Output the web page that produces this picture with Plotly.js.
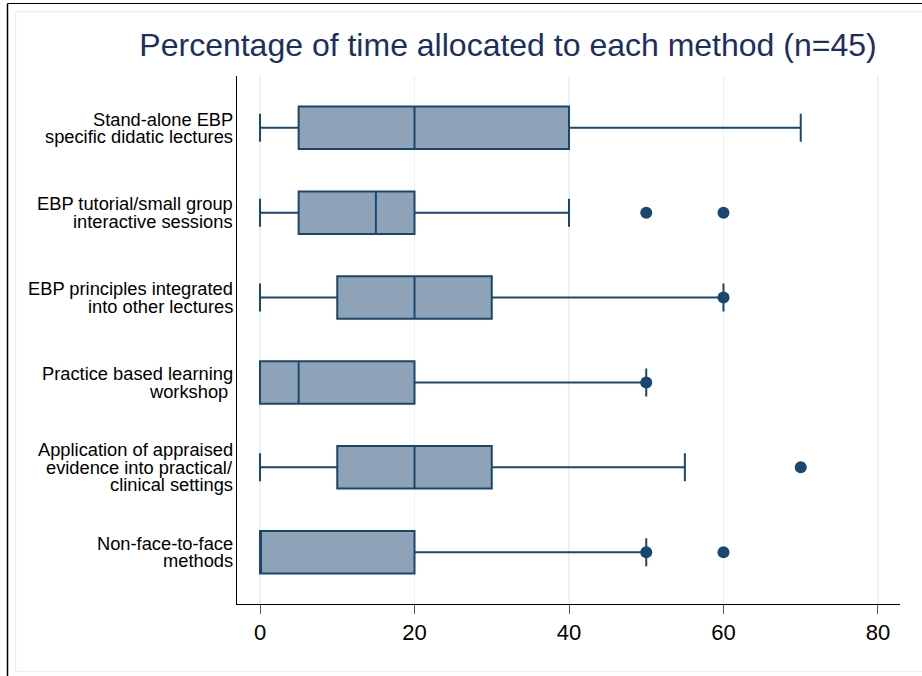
<!DOCTYPE html>
<html>
<head>
<meta charset="utf-8">
<script src="https://cdn.plot.ly/plotly-3.0.1.min.js"></script>
<style>
  html, body { margin: 0; padding: 0; background: #ffffff; }
  #chart { width: 922px; height: 676px; }
</style>
</head>
<body>
<div id="chart"></div>
<script>
// ---- Data ----
var categories = [
  "Stand-alone EBP<br>specific didatic lectures",
  "EBP tutorial/small group<br>interactive sessions",
  "EBP principles integrated<br>into other lectures",
  "Practice based learning<br>workshop ",
  "Application of appraised<br>evidence into practical/<br>clinical settings",
  "Non-face-to-face<br>methods"
];
var lowerWhisker = [0, 0, 0, 0, 0, 0];
var q1Values     = [5, 5, 10, 0, 10, 0];
var medianValues = [20, 15, 20, 5, 20, 0];
var q3Values     = [40, 20, 30, 20, 30, 20];
var upperWhisker = [70, 40, 60, 50, 55, 50];

var outlierCategory = [1, 1, 2, 3, 4, 5, 5];
var outlierValues   = [50, 60, 60, 50, 70, 50, 60];

var xTickValues = [0, 20, 40, 60, 80];
var xTickLabels = ["0", "20", "40", "60", "80"];

var titleText = "Percentage of time allocated to each method (n=45)";

// ---- Styling ----
var W = 922, H = 676;
var mL = 237, mR = 22, mT = 76, mB = 72;
var navy = "#1a476f";
var fill = "#8ea3b7";
var grid = "#eaf2f3";
var font = "Liberation Sans, Arial, Helvetica, sans-serif";

var catIdx = categories.map(function (c, i) { return i; });

var boxTrace = {
  type: "box",
  orientation: "h",
  y: catIdx,
  q1: q1Values,
  median: medianValues,
  q3: q3Values,
  lowerfence: lowerWhisker,
  upperfence: upperWhisker,
  boxpoints: false,
  width: 0.5,
  fillcolor: fill,
  line: { color: navy, width: 2 },
  whiskerwidth: 0.66,
  hoverinfo: "skip",
  showlegend: false
};

var outlierTrace = {
  type: "scatter",
  mode: "markers",
  x: outlierValues,
  y: outlierCategory,
  marker: { color: navy, size: 12 },
  hoverinfo: "skip",
  showlegend: false
};

// category labels as per-line annotations (tight Stata line spacing)
var annotations = [];
var lineGap = 17.5;
categories.forEach(function (label, i) {
  var lines = label.split("<br>");
  var n = lines.length;
  lines.forEach(function (ln, j) {
    annotations.push({
      xref: "paper", yref: "y",
      x: 0, y: i,
      xanchor: "right", yanchor: "middle",
      xshift: -3,
      yshift: ((n - 1) / 2 - j) * lineGap,
      text: ln.replace(/ $/, "&nbsp;"),
      showarrow: false,
      borderpad: 0,
      font: { family: font, size: 18.3, color: "#000000" }
    });
  });
});

// frames (outer black, inner light) in paper coordinates
var pw = W - mL - mR, ph = H - mT - mB;
function px(x) { return (x - mL) / pw; }
function py(y) { return 1 - (y - mT) / ph; }
var shapes = [
  { type: "line", xref: "paper", yref: "paper", x0: px(7.5), x1: px(W + 5), y0: py(3.5), y1: py(3.5),
    line: { color: "#000000", width: 1.2 } },
  { type: "line", xref: "paper", yref: "paper", x0: px(7.5), x1: px(7.5), y0: py(3.5), y1: py(H + 5),
    line: { color: "#000000", width: 1.5 } },
  { type: "rect", xref: "paper", yref: "paper", x0: px(15.5), x1: px(W + 5), y0: py(11.5), y1: py(671.5),
    line: { color: grid, width: 1.5 }, fillcolor: "rgba(0,0,0,0)" }
];

var layout = {
  width: W, height: H,
  margin: { l: mL, r: mR, t: mT, b: mB, pad: 0 },
  paper_bgcolor: "#ffffff",
  plot_bgcolor: "#ffffff",
  font: { family: font, color: "#000000" },
  title: {
    text: titleText,
    font: { family: font, size: 32, color: "#1c2f5e" },
    xref: "paper", x: (508 - mL) / pw, xanchor: "center",
    yref: "container", y: 1 - 45 / H, yanchor: "middle"
  },
  xaxis: {
    range: [-2.98, 82.85],
    tickvals: xTickValues,
    ticktext: xTickLabels,
    ticks: "outside", ticklen: 9, tickwidth: 1, tickcolor: "#555555",
    tickfont: { family: font, size: 22, color: "#000000" },
    showline: true, linecolor: "#000000", linewidth: 1,
    showgrid: true, gridcolor: grid, gridwidth: 1.5,
    zeroline: false, fixedrange: true
  },
  yaxis: {
    range: [5.61, -0.61],
    showticklabels: false,
    ticks: "",
    showline: true, linecolor: "#000000", linewidth: 1,
    showgrid: false, zeroline: false, fixedrange: true
  },
  annotations: annotations,
  shapes: shapes,
  showlegend: false
};

Plotly.newPlot("chart", [boxTrace, outlierTrace], layout, { displayModeBar: false, staticPlot: true });
</script>
</body>
</html>
